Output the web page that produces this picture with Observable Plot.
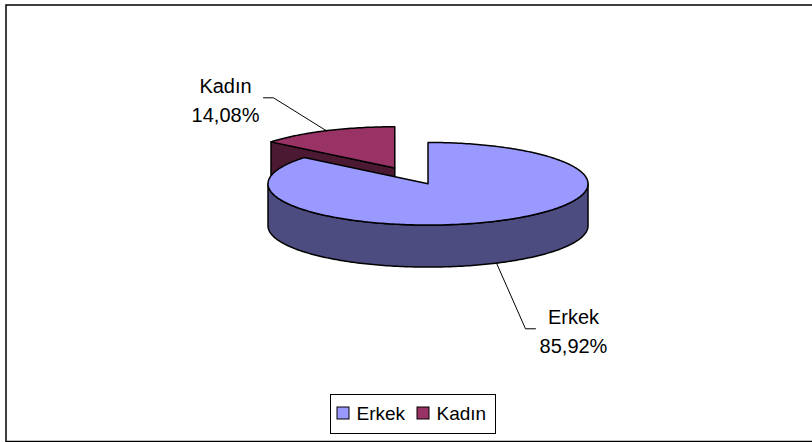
<!DOCTYPE html>
<html><head><meta charset="utf-8">
<script src="https://cdn.jsdelivr.net/npm/d3@7"></script>
<script src="https://cdn.jsdelivr.net/npm/@observablehq/plot@0.6"></script>
<style>body{margin:0;background:#fff;}</style>
</head><body><div id="chart"></div>
<script>
// ---- data ----
const categories = ["Erkek", "Kadın"];
const values = [85.92, 14.08];
const topColors = ["#9999FF", "#993366"];
const sideColors = ["#4C4C80", "#4C1933"];

// ---- layout ----
const W = 812, H = 442;
const rx = 160, ry = 41.3, depth = 42;
const c0 = {x: 410.9, y: 175.4}, explodeX = 38.8, explodeY = 8.7;
const labelOffset = {"Erkek": [29, 65.7], "Kadın": [-52.8, -32.9]};
const font = "Liberation Sans, Arial, sans-serif";

const total = d3.sum(values);
let acc = 0;
const slices = categories.map((cat, i) => {
  const a0 = acc / total * 2 * Math.PI; acc += values[i];
  const a1 = acc / total * 2 * Math.PI;
  const mid = (a0 + a1) / 2;
  const c = {x: c0.x + explodeX * Math.sin(mid), y: c0.y - explodeY * Math.cos(mid)};
  return {cat, i, a0, a1, mid, c, value: values[i]};
});

const P = (c, t, dz = 0) => ({x: c.x + rx * Math.sin(t), y: c.y - ry * Math.cos(t) + dz});
function arc(c, lo, hi, dz = 0) {
  const n = Math.max(2, Math.ceil((hi - lo) / (Math.PI / 180)));
  return d3.range(n + 1).map(k => P(c, lo + (hi - lo) * k / n, dz));
}
const close = pts => [...pts, pts[0]];

const faces = [];
[...slices].sort((a, b) => a.c.y - b.c.y).forEach(s => {
  const {c, a0, a1} = s;
  const v = {x: c.x, y: c.y}, vb = {x: c.x, y: c.y + depth};
  if (Math.sin(a0) < -1e-9) faces.push({pts: close([v, P(c, a0), P(c, a0, depth), vb]), fill: sideColors[s.i]});
  if (Math.sin(a1) > 1e-9) faces.push({pts: close([v, P(c, a1), P(c, a1, depth), vb]), fill: sideColors[s.i]});
  const lo = Math.max(a0, Math.PI / 2), hi = Math.min(a1, 3 * Math.PI / 2);
  if (lo < hi) faces.push({pts: close([...arc(c, lo, hi), ...arc(c, lo, hi, depth).reverse()]), fill: sideColors[s.i]});
  faces.push({pts: close([v, ...arc(c, a0, a1)]), fill: topColors[s.i]});
});

// labels
const fmt = v => v.toFixed(2).replace(".", ",") + "%";
const leaders = [], labels = [];
slices.forEach(s => {
  const front = Math.cos(s.mid) < 0;
  const a = P(s.c, s.mid, front ? depth : 0);
  const [dx, dy] = labelOffset[s.cat];
  const sign = dx < 0 ? -1 : 1;
  const e = {x: a.x + dx, y: a.y + dy};
  const e2 = {x: e.x + sign * 10, y: e.y};
  leaders.push([a, e, e2]);
  labels.push({x: e2.x + sign * 38, y: e2.y, text: s.cat + "\n" + fmt(s.value)});
});

// legend
const legX0 = 337, legStep = 80, sw = 12, legY = 413;
const legend = categories.map((cat, i) => ({cat, x: legX0 + i * legStep, y: legY, fill: topColors[i]}));
const legBox = [{x1: 330.5, x2: 495.5, y1: 394.5, y2: 433.5}];

const marks = [
  Plot.frame({insetLeft: 5.5, insetTop: 4.5, insetRight: -10, insetBottom: 1, stroke: "#000", strokeWidth: 1.5}),
  ...faces.map(f => Plot.line(f.pts, {x: "x", y: "y", fill: f.fill, stroke: "#000", strokeWidth: 1.5, strokeLinejoin: "round"})),
  ...leaders.map(l => Plot.line(l, {x: "x", y: "y", stroke: "#000", strokeWidth: 1})),
  Plot.text(labels, {x: "x", y: "y", text: "text", textAnchor: "middle", lineHeight: 1.45, fontSize: 20, fontFamily: font, fill: "#000"}),
  Plot.rect(legBox, {x1: "x1", x2: "x2", y1: "y1", y2: "y2", fill: "none", stroke: "#000", strokeWidth: 1}),
  Plot.rect(legend, {x1: d => d.x, x2: d => d.x + sw, y1: d => d.y - sw / 2, y2: d => d.y + sw / 2, fill: d => d.fill, stroke: "#000", strokeWidth: 1}),
  Plot.text(legend, {x: d => d.x + sw + 7, y: "y", text: "cat", textAnchor: "start", fontSize: 19, fontFamily: font, fill: "#000"})
];

const chart = Plot.plot({
  width: W, height: H, margin: 0,
  x: {domain: [0, W], range: [0, W], axis: null},
  y: {domain: [0, H], range: [0, H], axis: null},
  color: {type: "identity"},
  style: {background: "#fff", overflow: "visible"},
  marks
});
document.getElementById("chart").appendChild(chart);
</script>
</body></html>
